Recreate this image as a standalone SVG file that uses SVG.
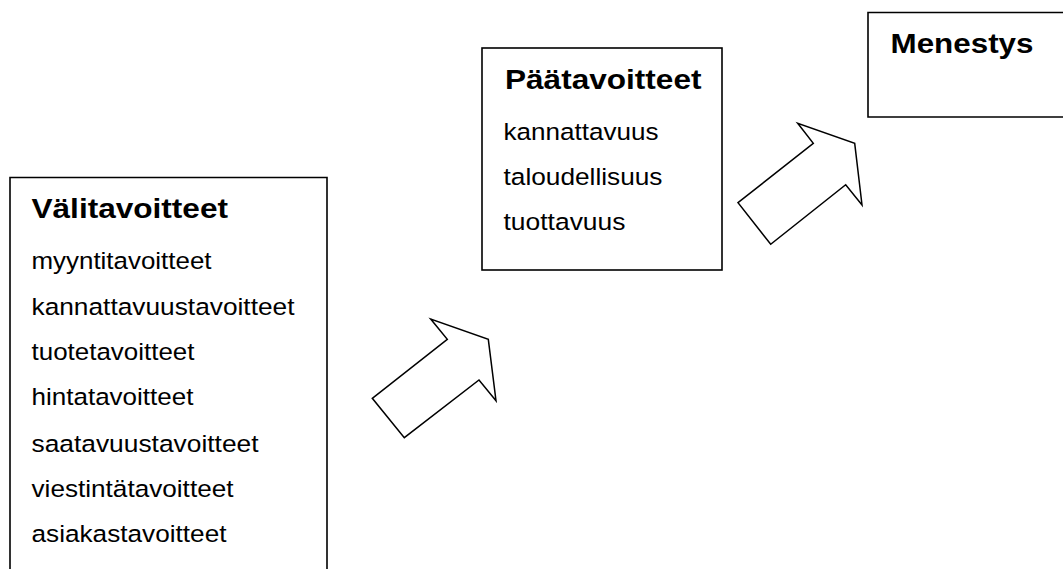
<svg xmlns="http://www.w3.org/2000/svg" width="1063" height="569" viewBox="0 0 1063 569">
  <style>
    .box { fill: #fff; stroke: #000; stroke-width: 1.6; }
    .arrow { fill: #fff; stroke: #000; stroke-width: 1.5; stroke-linejoin: miter; }
    .title { font-family: "Liberation Sans", Arial, sans-serif; font-weight: bold; font-size: 28px; fill: #000; }
    .item { font-family: "Liberation Sans", Arial, sans-serif; font-size: 24.5px; fill: #000; }
  </style>
  <rect width="1063" height="569" fill="#fff"/>

  <!-- block arrows between the levels -->
  <g id="connectors">
    <polygon class="arrow" points="372.3,398.3 447.3,339.3 430.7,319 488.3,339.3 496,400.7 479,380 404.3,437.7"/>
    <polygon class="arrow" points="738,202.7 813.3,143.3 797.7,123.3 854.7,143.3 862,205 845.7,184.7 770.7,244.3"/>
  </g>

  <!-- intermediate goals -->
  <g id="valitavoitteet">
    <polyline class="box" points="10,572 10,177.5 327,177.5 327,572"/>
    <text class="title" x="31.5" y="218" textLength="196.5" lengthAdjust="spacingAndGlyphs">Välitavoitteet</text>
    <text class="item" x="31.5" y="268.5" textLength="180" lengthAdjust="spacingAndGlyphs">myyntitavoitteet</text>
    <text class="item" x="31.5" y="314.5" textLength="263" lengthAdjust="spacingAndGlyphs">kannattavuustavoitteet</text>
    <text class="item" x="31.5" y="360" textLength="163" lengthAdjust="spacingAndGlyphs">tuotetavoitteet</text>
    <text class="item" x="31.5" y="405" textLength="162" lengthAdjust="spacingAndGlyphs">hintatavoitteet</text>
    <text class="item" x="31.5" y="451.5" textLength="227" lengthAdjust="spacingAndGlyphs">saatavuustavoitteet</text>
    <text class="item" x="31.5" y="496.5" textLength="202" lengthAdjust="spacingAndGlyphs">viestintätavoitteet</text>
    <text class="item" x="31.5" y="541.5" textLength="195" lengthAdjust="spacingAndGlyphs">asiakastavoitteet</text>
  </g>

  <!-- main goals -->
  <g id="paatavoitteet">
    <rect class="box" x="482" y="48" width="240" height="222"/>
    <text class="title" x="505" y="89" textLength="196.5" lengthAdjust="spacingAndGlyphs">Päätavoitteet</text>
    <text class="item" x="503.5" y="139.5" textLength="155" lengthAdjust="spacingAndGlyphs">kannattavuus</text>
    <text class="item" x="503.5" y="185" textLength="159" lengthAdjust="spacingAndGlyphs">taloudellisuus</text>
    <text class="item" x="503.5" y="230" textLength="122" lengthAdjust="spacingAndGlyphs">tuottavuus</text>
  </g>

  <!-- success -->
  <g id="menestys">
    <polyline class="box" points="1066,12.5 868,12.5 868,117 1066,117"/>
    <text class="title" x="890.5" y="53" textLength="143" lengthAdjust="spacingAndGlyphs">Menestys</text>
  </g>
</svg>
